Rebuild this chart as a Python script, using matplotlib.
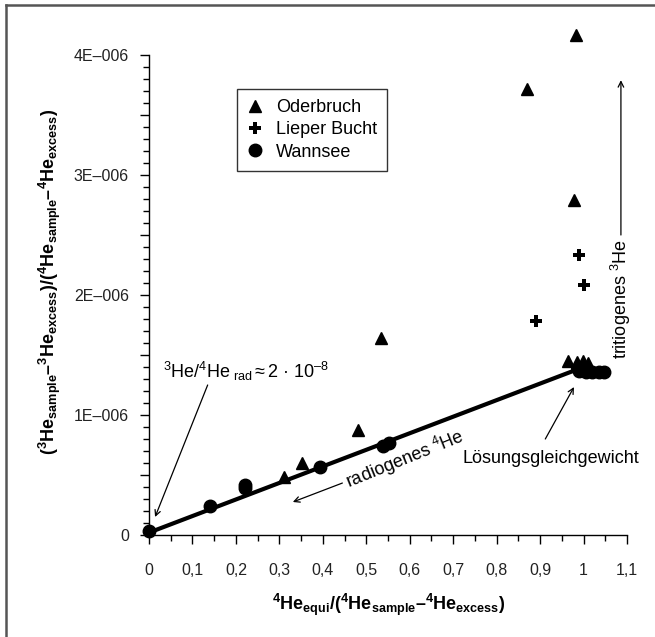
import matplotlib
matplotlib.use("Agg")
import matplotlib.pyplot as plt
from matplotlib.ticker import MultipleLocator, FuncFormatter
from matplotlib.lines import Line2D

plt.rcParams.update({
    "font.family": ["Liberation Sans", "DejaVu Sans"],
    "mathtext.fontset": "custom",
    "mathtext.rm": "Liberation Sans",
    "mathtext.it": "Liberation Sans:italic",
    "mathtext.bf": "Liberation Sans:bold",
    "axes.linewidth": 1.0,
})

# ---------- data ----------
oder_x = [0.983, 0.870, 0.978, 0.534, 0.481, 0.351, 0.310, 0.965, 0.985, 0.998, 1.010]
oder_y = [4.17e-6, 3.72e-6, 2.79e-6, 1.64e-6, 0.875e-6, 0.60e-6, 0.486e-6,
          1.45e-6, 1.44e-6, 1.45e-6, 1.43e-6]

lieper_x = [0.990, 1.001, 0.890, 0.985]
lieper_y = [2.33e-6, 2.08e-6, 1.78e-6, 1.38e-6]

wann_x = [0.0, 0.140, 0.220, 0.222, 0.394, 0.538, 0.553,
          0.990, 1.005, 1.020, 1.035, 1.047]
wann_y = [0.03e-6, 0.244e-6, 0.42e-6, 0.39e-6, 0.57e-6, 0.744e-6, 0.77e-6,
          1.37e-6, 1.36e-6, 1.36e-6, 1.36e-6, 1.36e-6]

# radiogenic mixing line
line_x = [0.0, 0.982]
line_y = [0.02e-6, 1.375e-6]

x_ticks = [0, 0.1, 0.2, 0.3, 0.4, 0.5, 0.6, 0.7, 0.8, 0.9, 1.0, 1.1]
x_ticklabels = ["0", "0,1", "0,2", "0,3", "0,4", "0,5", "0,6", "0,7", "0,8", "0,9", "1", "1,1"]

W, H = 655, 637
fig = plt.figure(figsize=(W / 100, H / 100), dpi=100)
ax = fig.add_axes([149 / W, (H - 535) / H, (627 - 149) / W, (535 - 55) / H])

ax.plot(line_x, line_y, color="black", lw=3.0, solid_capstyle="butt", zorder=2)
ax.plot(oder_x, oder_y, "^", color="black", ms=8.5, ls="none", label="Oderbruch",
        clip_on=False, zorder=3)
ax.plot(lieper_x, lieper_y, "P", color="black", ms=8, mew=0, ls="none",
        label="Lieper Bucht", clip_on=False, zorder=3)
ax.plot(wann_x, wann_y, "o", color="black", ms=9, ls="none", label="Wannsee",
        clip_on=False, zorder=3)

ax.set_xlim(0, 1.1)
ax.set_ylim(0, 4e-6)
ax.spines["top"].set_visible(False)
ax.spines["right"].set_visible(False)

ax.set_xticks(x_ticks)
ax.set_xticklabels(x_ticklabels)
ax.xaxis.set_minor_locator(MultipleLocator(0.05))
ax.yaxis.set_major_locator(MultipleLocator(0.5e-6))
ax.yaxis.set_minor_locator(MultipleLocator(0.1e-6))


def yfmt(v, pos):
    n = v * 1e6
    if abs(n) < 1e-9:
        return "0"
    if abs(n - round(n)) > 1e-6:
        return ""
    return f"{int(round(n))}E–006"


ax.yaxis.set_major_formatter(FuncFormatter(yfmt))
ax.tick_params(axis="both", which="major", direction="out", length=6.5, width=1,
               labelsize=11.5, color="black", labelcolor="#222222")
ax.tick_params(axis="both", which="minor", direction="out", length=4, width=1)
ax.tick_params(axis="x", which="major", pad=14)
ax.tick_params(axis="y", which="major", pad=8)

# legend
leg = ax.legend(loc="upper left", bbox_to_anchor=(237 / W, 1 - 89 / H),
                bbox_transform=fig.transFigure, fontsize=13, frameon=True,
                fancybox=False, framealpha=1, edgecolor="#333333",
                handlelength=0.9, handletextpad=0.7, labelspacing=0.3,
                borderpad=0.55, borderaxespad=0)
leg.get_frame().set_linewidth(1.0)

# axis labels
fig.text(389 / W, 1 - 605 / H,
         r"$\mathbf{{}^{4}He_{equi}/({}^{4}He_{sample}–{}^{4}He_{excess})}$",
         ha="center", va="center", fontsize=13)
fig.text(50 / W, 1 - 282 / H,
         r"$\mathbf{({}^{3}He_{sample}–{}^{3}He_{excess})/({}^{4}He_{sample}–{}^{4}He_{excess})}$",
         ha="center", va="center", rotation=90, fontsize=13)

arrow = dict(arrowstyle="->", color="black", lw=0.9, shrinkA=0, shrinkB=0)

# annotations
ax.text(0.032, 1.36e-6, r"$^{3}$He/$^{4}$He$_{\ \rm rad}$$\approx$2 · 10$^{–8}$",
        fontsize=13, ha="left", va="center")
ax.annotate("", xy=(0.014, 0.15e-6), xytext=(0.135, 1.25e-6), arrowprops=arrow)

ax.text(0.588, 0.63e-6, r"radiogenes $^{4}$He", fontsize=13, rotation=22,
        rotation_mode="anchor", ha="center", va="center")
ax.annotate("", xy=(0.331, 0.275e-6), xytext=(0.445, 0.433e-6), arrowprops=arrow)

ax.text(0.925, 0.64e-6, "Lösungsgleichgewicht", fontsize=13, ha="center", va="center")
ax.annotate("", xy=(0.978, 1.233e-6), xytext=(0.912, 0.80e-6), arrowprops=arrow)

ax.text(1.086, 1.97e-6, r"tritiogenes $^{3}$He", fontsize=13, rotation=90,
        ha="center", va="center", clip_on=False)
ax.annotate("", xy=(1.086, 3.79e-6), xytext=(1.086, 2.5e-6), arrowprops=arrow,
            annotation_clip=False)

# outer frame (left and top edges only)
fig.add_artist(Line2D([6 / W, 6 / W], [0, 1 - 5 / H], transform=fig.transFigure,
                      color="#555555", lw=1.8))
fig.add_artist(Line2D([6 / W, 1], [1 - 5 / H, 1 - 5 / H], transform=fig.transFigure,
                      color="#555555", lw=1.8))

fig.savefig("out.png", dpi=100, facecolor="white")
